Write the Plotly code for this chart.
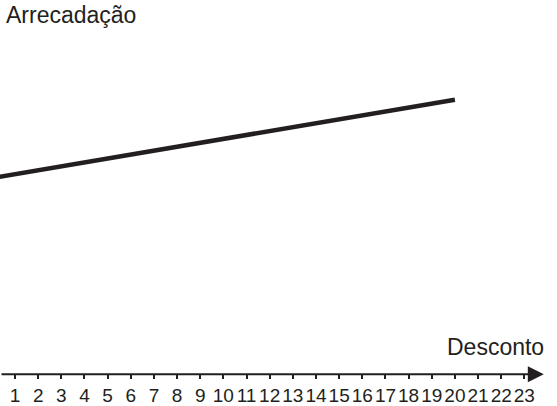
import plotly.graph_objects as go

# Data
desconto = [0, 20]
arrecadacao = [10, 14]
tick_vals = list(range(1, 24))
tick_text = [str(v) for v in tick_vals]
x_title = "Desconto"
y_title = "Arrecadação"

W, H = 557, 406
ink = "#231f20"
font_family = "Liberation Sans, Arial, sans-serif"

x_range = [0.352, 24.41]
y_range = [-1.616, 19.08]
axis_pos = (0 - y_range[0]) / (y_range[1] - y_range[0])

fig = go.Figure()
fig.add_trace(go.Scatter(
    x=desconto, y=arrecadacao, mode="lines",
    line=dict(color=ink, width=4.5), hoverinfo="skip", showlegend=False,
))

fig.update_layout(
    width=W, height=H,
    margin=dict(l=0, r=0, t=0, b=0, autoexpand=False),
    paper_bgcolor="white", plot_bgcolor="white",
    showlegend=False,
    xaxis=dict(
        range=x_range, anchor="free", position=axis_pos,
        tickmode="array", tickvals=tick_vals, ticktext=tick_text,
        tickangle=0, automargin=False,
        ticks="outside", ticklen=4, tickwidth=1.6, tickcolor=ink,
        showline=False, showgrid=False, zeroline=False,
        tickfont=dict(family=font_family, size=19, color=ink),
        ticklabelstandoff=0,
    ),
    yaxis=dict(
        range=y_range, visible=False, showgrid=False, zeroline=False,
        automargin=False,
    ),
    annotations=[
        dict(
            x=23.84, y=0, ax=x_range[0], ay=0,
            xref="x", yref="y", axref="x", ayref="y",
            showarrow=True, arrowhead=2, arrowwidth=2, arrowsize=1.6,
            arrowcolor=ink, text="",
        ),
        dict(
            x=0, y=1, xref="paper", yref="paper",
            xanchor="left", yanchor="top", xshift=4, yshift=0,
            text=y_title, showarrow=False,
            font=dict(family=font_family, size=23, color=ink),
        ),
        dict(
            x=23.84, y=0, xref="x", yref="y",
            xanchor="right", yanchor="bottom", xshift=2, yshift=12,
            text=x_title, showarrow=False,
            font=dict(family=font_family, size=23, color=ink),
        ),
    ],
)

fig.write_html("out.html")
